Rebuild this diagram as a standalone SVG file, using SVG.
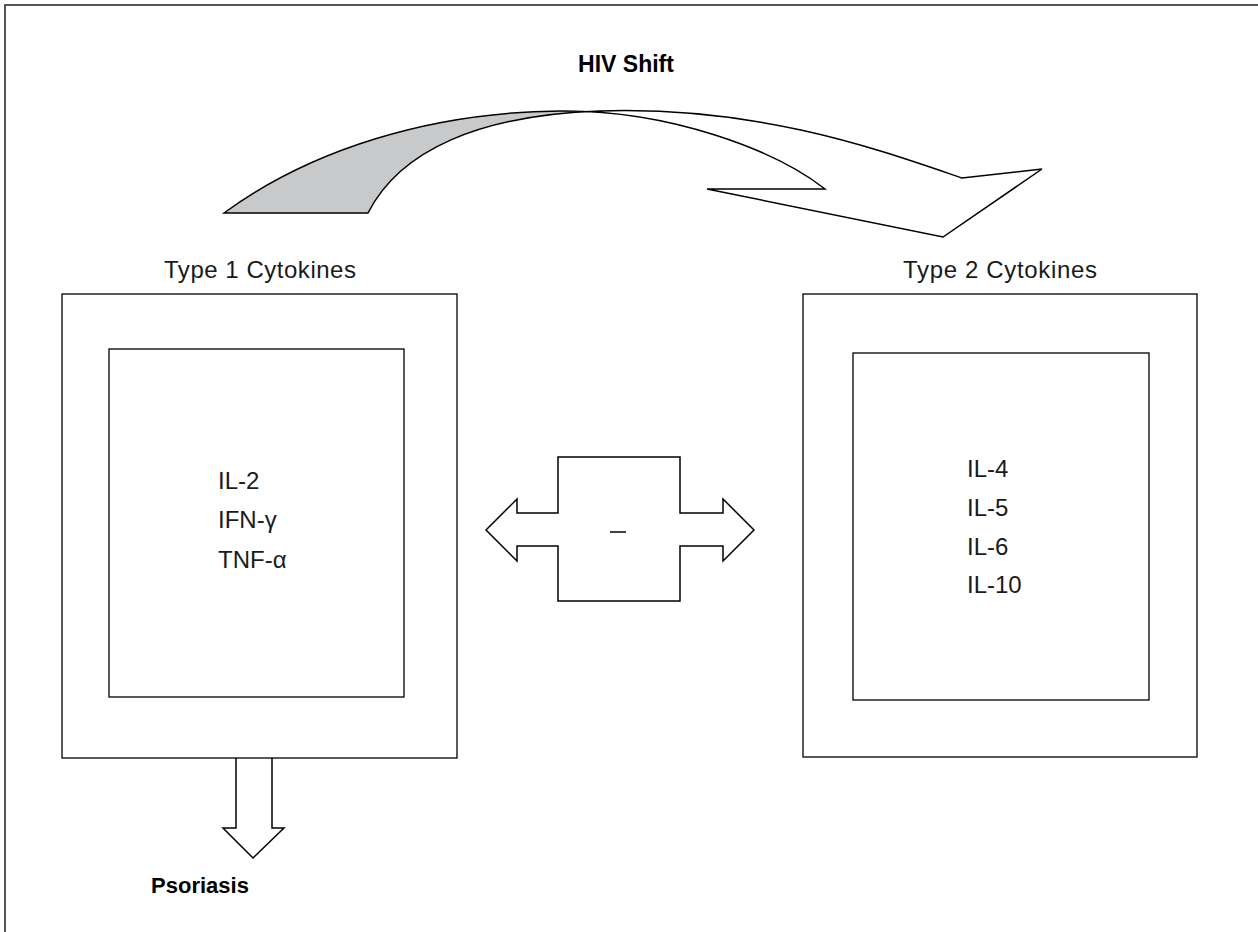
<svg xmlns="http://www.w3.org/2000/svg" width="1258" height="932" viewBox="0 0 1258 932">
<style>
.ln{fill:none;stroke:#000;stroke-width:1.5;stroke-linejoin:miter}
.box{fill:none;stroke:#000;stroke-width:1.3}
.t{font-family:"Liberation Sans",Arial,sans-serif;fill:#1a1a1a}
.b{font-family:"Liberation Sans",Arial,sans-serif;font-weight:bold;fill:#000}
</style>
<rect width="1258" height="932" fill="#fff"/>
<path d="M5,932 V5 H1258" fill="none" stroke="#555" stroke-width="2"/>
<g id="title"><text class="b" x="626" y="72" font-size="23" text-anchor="middle">HIV Shift</text></g>
<g id="connectors">
<g id="hiv-shift-arrow">
<path d="M224,213 C310,150 430,112 560,111 Q580,110.8 597,111.2 C480,115 400,150 368,213 Z" fill="#c8c9cb" stroke="none"/>
<path class="ln" d="M224,213 C310,150 430,112 560,111 C670,110 775,150 825,189 L707,189 L943,237 L1042,169 L962,178 C880,150 760,106 600,111 C480,115 400,150 368,213 Z"/>
</g>
<g id="inhibit-arrow">
<path class="ln" d="M486,530 L517,499 L517,513 L558,513 L558,457 L680,457 L680,513 L723,513 L723,499 L754,530 L723,561 L723,546 L680,546 L680,601 L558,601 L558,546 L517,546 L517,561 Z"/>
<line x1="610" y1="532" x2="626" y2="532" stroke="#000" stroke-width="1.5"/>
</g>
<g id="down-arrow">
<path class="ln" d="M236,758 L236,828 L223,828 L253,858 L284,828 L272,828 L272,758"/>
</g>
</g>
<g id="type1">
<text class="t" x="260" y="278" font-size="24" text-anchor="middle" textLength="192" lengthAdjust="spacing">Type 1 Cytokines</text>
<rect class="box" x="62" y="294" width="395" height="464"/>
<rect class="box" x="109" y="349" width="295" height="348"/>
<text class="t" x="218" y="489" font-size="24">IL-2</text>
<text class="t" x="218" y="528" font-size="24">IFN-γ</text>
<text class="t" x="218" y="568" font-size="24">TNF-α</text>
</g>
<g id="type2">
<text class="t" x="1000" y="278" font-size="24" text-anchor="middle" textLength="194" lengthAdjust="spacing">Type 2 Cytokines</text>
<rect class="box" x="803" y="294" width="394" height="463"/>
<rect class="box" x="853" y="353" width="296" height="347"/>
<text class="t" x="967" y="477" font-size="24">IL-4</text>
<text class="t" x="967" y="516" font-size="24">IL-5</text>
<text class="t" x="967" y="555" font-size="24">IL-6</text>
<text class="t" x="967" y="593" font-size="24">IL-10</text>
</g>
<g id="psoriasis"><text class="b" x="200" y="893" font-size="22" text-anchor="middle">Psoriasis</text></g>
</svg>
